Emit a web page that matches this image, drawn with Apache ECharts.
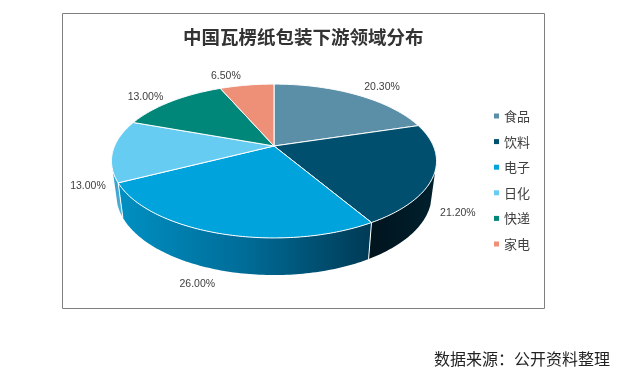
<!DOCTYPE html>
<html>
<head>
<meta charset="utf-8">
<style>html,body{margin:0;padding:0;background:#fff}</style>
<script src="https://cdn.jsdelivr.net/npm/echarts@6/dist/echarts.min.js"></script>
</head>
<body>
<div id="main" style="width:626px;height:378px;"></div>
<script type="text/javascript">
var categories = ['食品', '饮料', '电子', '日化', '快递', '家电'];
var shares = [20.3, 21.2, 26.0, 13.0, 13.0, 6.5];
var topColors = ['#5b8fa8', '#004f6e', '#00a3dc', '#66ccf2', '#00877a', '#ee8f78'];
// side wall gradient, left to right
var wallColors = [
    ['#44768c', '#44768c'],
    ['#00141d', '#00202d'],
    ['#0090c2', '#006c98', '#003a55'],
    ['#2f9ccb', '#57b5dc'],
    ['#00665c', '#00665c'],
    ['#b86d5b', '#b86d5b']
];
// label shift from the rim point at the middle of each slice
var labelShift = [[26, -7], [24, 38], [-22, 51], [-25, 35], [-26, -4], [-21, -9]];

var fontCn = '"Noto Sans CJK SC"';
var chart = echarts.init(document.getElementById('main'));

var total = shares.reduce(function (a, b) { return a + b; }, 0);
var starts = [];
shares.reduce(function (acc, v, i) { starts[i] = acc; return acc + v; }, 0);

// tilted disc with perspective, angle in degrees clockwise from the back
var K = 0.195;
var topDisc = {cx: 274, cy: 146, a: 159.4, b: 74};
var bottomDisc = {cx: 274, cy: 179.4, a: 154.6, b: 77};
var wallFrom = 108, wallTo = 252;
function project(disc, deg) {
    var r = deg * Math.PI / 180;
    var u = Math.sin(r), v = -Math.cos(r), w = 1 - K * v;
    return [disc.cx + disc.a * u / w, disc.cy + disc.b * v / w];
}
function rim(disc, from, to) {
    var pts = [], n = Math.max(2, Math.ceil(Math.abs(to - from)));
    for (var i = 0; i <= n; i++) pts.push(project(disc, from + (to - from) * i / n));
    return pts;
}
function toDeg(v) { return v / total * 360; }

var wallSeries = categories.map(function (name, idx) {
    return {
        type: 'custom',
        name: name + '-side',
        coordinateSystem: 'none',
        silent: true,
        z: 1,
        data: [shares[idx]],
        renderItem: function (params, api) {
            var a0 = toDeg(starts[idx]), a1 = a0 + toDeg(api.value(0));
            var from = Math.max(a0, wallFrom), to = Math.min(a1, wallTo);
            if (to <= from) return {type: 'group', children: []};
            var stops = wallColors[idx].map(function (c, i, arr) {
                return {offset: i / (arr.length - 1), color: c};
            });
            var pts = rim(topDisc, from, to).concat(rim(bottomDisc, to, from));
            var children = [{
                type: 'polygon',
                shape: {points: pts},
                style: {fill: new echarts.graphic.LinearGradient(0, 0, 1, 0, stops)}
            }];
            // white seam where two walls meet
            if (a0 >= wallFrom && a0 <= wallTo) {
                children.push({
                    type: 'polyline',
                    z2: 5,
                    shape: {points: [project(topDisc, a0), project(bottomDisc, a0)]},
                    style: {fill: null, stroke: '#fff', lineWidth: 1}
                });
            }
            return {type: 'group', children: children};
        }
    };
});

var topSeries = categories.map(function (name, idx) {
    return {
        type: 'custom',
        name: name,
        coordinateSystem: 'none',
        silent: true,
        z: 2,
        itemStyle: {color: topColors[idx]},
        data: [shares[idx]],
        renderItem: function (params, api) {
            var val = api.value(0);
            var a0 = toDeg(starts[idx]), a1 = a0 + toDeg(val);
            var pts = [[topDisc.cx, topDisc.cy]].concat(rim(topDisc, a0, a1));
            var mid = project(topDisc, (a0 + a1) / 2);
            return {
                type: 'group',
                children: [{
                    type: 'polygon',
                    shape: {points: pts},
                    style: {fill: topColors[idx], stroke: '#fff', lineWidth: 1}
                }, {
                    type: 'text',
                    z2: 10,
                    style: {
                        text: val.toFixed(2) + '%',
                        x: mid[0] + labelShift[idx][0],
                        y: mid[1] + labelShift[idx][1],
                        align: 'center',
                        verticalAlign: 'middle',
                        fill: '#404040',
                        font: '10.5px "Liberation Sans"'
                    }
                }]
            };
        }
    };
});

var option = {
    animation: false,
    backgroundColor: '#fff',
    title: [{
        text: '中国瓦楞纸包装下游领域分布',
        left: 178,
        top: 23,
        textStyle: {color: '#333', fontSize: 18.5, fontWeight: 'bold', fontFamily: fontCn}
    }, {
        text: '数据来源：公开资料整理',
        left: 429,
        top: 346,
        textStyle: {color: '#222', fontSize: 16, fontWeight: 'normal', fontFamily: fontCn}
    }],
    legend: {
        orient: 'vertical',
        left: 489,
        top: 102,
        data: categories,
        icon: 'rect',
        itemWidth: 5,
        itemHeight: 5,
        itemGap: 7.6,
        selectedMode: false,
        textStyle: {color: '#404040', fontSize: 13, fontFamily: fontCn, lineHeight: 18}
    },
    graphic: [{
        type: 'rect',
        silent: true,
        shape: {x: 62.5, y: 13.5, width: 482, height: 295},
        style: {fill: null, stroke: '#7f7f7f', lineWidth: 1}
    }],
    series: wallSeries.concat(topSeries)
};
chart.setOption(option);
</script>
</body>
</html>
